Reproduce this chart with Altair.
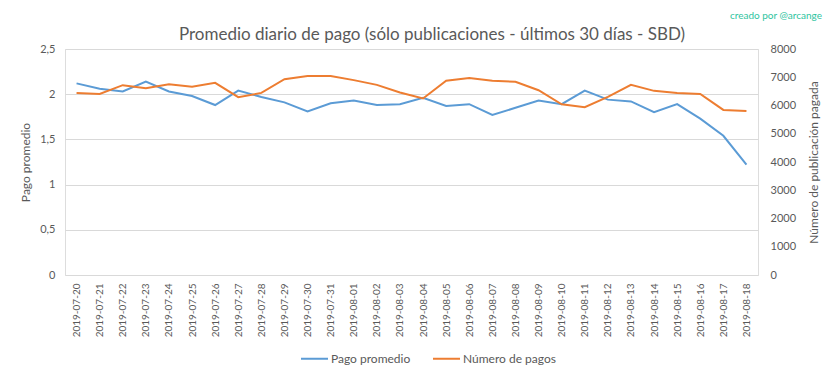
import altair as alt
import pandas as pd

dates = [
    "2019-07-20", "2019-07-21", "2019-07-22", "2019-07-23", "2019-07-24",
    "2019-07-25", "2019-07-26", "2019-07-27", "2019-07-28", "2019-07-29",
    "2019-07-30", "2019-07-31", "2019-08-01", "2019-08-02", "2019-08-03",
    "2019-08-04", "2019-08-05", "2019-08-06", "2019-08-07", "2019-08-08",
    "2019-08-09", "2019-08-10", "2019-08-11", "2019-08-12", "2019-08-13",
    "2019-08-14", "2019-08-15", "2019-08-16", "2019-08-17", "2019-08-18",
]
pago_promedio = [
    2.12, 2.06, 2.03, 2.14, 2.03, 1.98, 1.88, 2.04, 1.97, 1.91,
    1.81, 1.90, 1.93, 1.88, 1.89, 1.96, 1.87, 1.89, 1.77, 1.85,
    1.93, 1.89, 2.04, 1.94, 1.92, 1.80, 1.89, 1.73, 1.54, 1.22,
]
numero_pagos = [
    6446, 6411, 6720, 6613, 6756, 6660, 6802, 6293, 6446, 6933,
    7040, 7040, 6898, 6731, 6460, 6250, 6875, 6969, 6875, 6840,
    6542, 6044, 5938, 6304, 6731, 6518, 6446, 6411, 5843, 5808,
]

series_names = ["Pago promedio", "Número de pagos"]
series_colors = ["#5B9BD5", "#ED7D31"]
title_text = "Promedio diario de pago (sólo publicaciones - últimos 30 días - SBD)"
credit_text = "creado por @arcange"

df_pago = pd.DataFrame({"fecha": dates, "valor": pago_promedio, "serie": series_names[0]})
df_num = pd.DataFrame({"fecha": dates, "valor": numero_pagos, "serie": series_names[1]})

FONT = "Lato"
GREY = "#595959"

color = alt.Color(
    "serie:N",
    scale=alt.Scale(domain=series_names, range=series_colors),
    legend=alt.Legend(
        title=None,
        orient="none",
        legendX=235,
        legendY=295,
        direction="horizontal",
        symbolType="stroke",
        symbolSize=729,
        symbolStrokeWidth=2,
        labelFontSize=12,
        labelColor=GREY,
        labelFont=FONT,
        labelOffset=2,
        columnPadding=18,
    ),
)

x_enc = alt.X(
    "fecha:N",
    sort=dates,
    title=None,
    axis=alt.Axis(
        labelAngle=-90,
        labelFontSize=10,
        labelColor=GREY,
        labelFont=FONT,
        labelPadding=8,
        ticks=False,
        domain=False,
        grid=False,
    ),
)

left = alt.Chart(df_pago).mark_line(strokeWidth=2).encode(
    x=x_enc,
    y=alt.Y(
        "valor:Q",
        scale=alt.Scale(domain=[0, 2.5], nice=False),
        title="Pago promedio",
        axis=alt.Axis(
            values=[0, 0.5, 1, 1.5, 2, 2.5],
            labelExpr="replace(format(datum.value, '.1~f'), '.', ',')",
            labelFontSize=11,
            labelColor=GREY,
            labelFont=FONT,
            labelPadding=10,
            ticks=False,
            domain=False,
            grid=True,
            gridColor="#d9d9d9",
            gridWidth=1,
            titleFontSize=12,
            titleFontWeight="normal",
            titleColor=GREY,
            titleFont=FONT,
            titlePadding=7,
        ),
    ),
    color=color,
)

right = alt.Chart(df_num).mark_line(strokeWidth=2).encode(
    x=x_enc,
    y=alt.Y(
        "valor:Q",
        scale=alt.Scale(domain=[0, 8000], nice=False),
        title="Número de publicación pagada",
        axis=alt.Axis(
            orient="right",
            values=[0, 1000, 2000, 3000, 4000, 5000, 6000, 7000, 8000],
            format="d",
            labelFontSize=11,
            labelColor=GREY,
            labelFont=FONT,
            labelPadding=12,
            ticks=False,
            domain=False,
            grid=False,
            titleFontSize=12,
            titleFontWeight="normal",
            titleColor=GREY,
            titleFont=FONT,
            titleAngle=270,
            titlePadding=25,
        ),
    ),
    color=color,
)

title = alt.Chart(pd.DataFrame({"t": [title_text]})).mark_text(
    align="center", baseline="middle", fontSize=17, font=FONT, color=GREY
).encode(text="t:N", x=alt.value(367), y=alt.value(-14))

credit = alt.Chart(pd.DataFrame({"t": [credit_text]})).mark_text(
    align="right", baseline="middle", fontSize=10, font=FONT, color="#2ec4a0"
).encode(text="t:N", x=alt.value(757), y=alt.value(-33))

chart = (
    alt.layer(left, right, title, credit)
    .resolve_scale(y="independent")
    .properties(
        width=693,
        height=226,
        autosize=alt.AutoSizeParams(type="none"),
        padding={"left": 57, "top": 41, "right": 67, "bottom": 96},
    )
    .configure_view(stroke=None)
    .configure(background="white")
)

chart.save("out.html", embed_options={"renderer": "svg", "actions": False})
